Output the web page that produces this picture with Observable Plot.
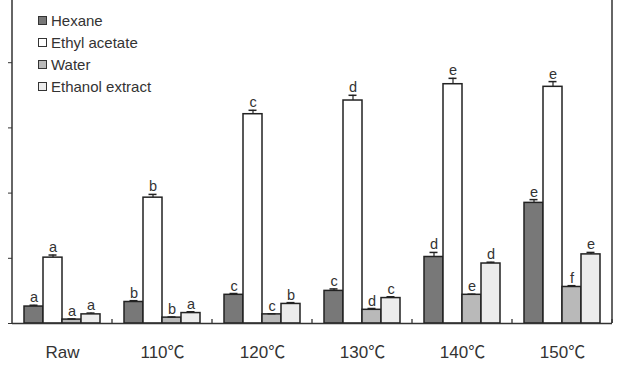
<!DOCTYPE html>
<html>
<head>
<meta charset="utf-8">
<script src="https://cdn.jsdelivr.net/npm/d3@7"></script>
<script src="https://cdn.jsdelivr.net/npm/@observablehq/plot@0.6"></script>
<style>
  body { margin: 0; background: #fff; font-family: "Liberation Sans", Arial, sans-serif; }
  #chart { position: relative; width: 620px; height: 367px; }
  .legend { position: absolute; left: 38px; top: 9px; font-size: 15px; color: #333; }
  .legend .item { height: 22px; display: flex; align-items: center; }
  .legend .sw { width: 7px; height: 7px; border: 1.5px solid #333; margin-right: 4px; }
</style>
</head>
<body>
<div id="chart"></div>
<script>
// Treatment groups along the x axis
const categories = ["Raw", "110℃", "120℃", "130℃", "140℃", "150℃"];
// Extract fractions and their fills
const series = ["Hexane", "Ethyl acetate", "Water", "Ethanol extract"];
const fills = ["#787878", "#ffffff", "#b9b9b9", "#ececec"];

// Mean values per fraction, one per treatment group
const hexane = [0.26, 0.33, 0.44, 0.50, 1.02, 1.85];
const ethylAcetate = [1.01, 1.93, 3.21, 3.42, 3.67, 3.63];
const water = [0.06, 0.09, 0.14, 0.21, 0.44, 0.56];
const ethanol = [0.14, 0.16, 0.30, 0.39, 0.92, 1.06];

// Standard errors
const hexaneErr = [0.02, 0.02, 0.02, 0.03, 0.07, 0.05];
const ethylAcetateErr = [0.04, 0.05, 0.06, 0.08, 0.09, 0.08];
const waterErr = [0.01, 0.01, 0.01, 0.02, 0.01, 0.02];
const ethanolErr = [0.02, 0.02, 0.02, 0.02, 0.02, 0.03];

// Significance letters
const hexaneSig = ["a", "b", "c", "c", "d", "e"];
const ethylAcetateSig = ["a", "b", "c", "d", "e", "e"];
const waterSig = ["a", "b", "c", "d", "e", "f"];
const ethanolSig = ["a", "a", "b", "c", "d", "e"];

const yTicks = [0, 1, 2, 3, 4];

const values = [hexane, ethylAcetate, water, ethanol];
const errs = [hexaneErr, ethylAcetateErr, waterErr, ethanolErr];
const sigs = [hexaneSig, ethylAcetateSig, waterSig, ethanolSig];

const rows = [];
categories.forEach((category, i) => {
  series.forEach((s, j) => {
    rows.push({category, series: s, value: values[j][i], err: errs[j][i], letter: sigs[j][i]});
  });
});
const errTop = d => d.value + d.err;

// Short upward tick at the right edge of every group panel
const groupEdge = Plot.frame({
  render(index, scales, vals, dims) {
    const x = dims.width - dims.marginRight;
    const y = dims.height - dims.marginBottom;
    const g = d3.create("svg:g");
    g.append("line").attr("x1", x).attr("x2", x).attr("y1", y).attr("y2", y - 4)
      .attr("stroke", "#333").attr("stroke-width", 1.3);
    return g.node();
  }
});

// Left and right frame lines spanning the full plot height
const sideLines = Plot.frame({
  facet: "super",
  render(index, scales, vals, dims) {
    const xl = dims.marginLeft, xr = dims.width - dims.marginRight;
    const y0 = dims.marginTop, y1 = dims.height - dims.marginBottom;
    const g = d3.create("svg:g").attr("stroke", "#333").attr("stroke-width", 1.5);
    g.append("line").attr("x1", xl).attr("x2", xl).attr("y1", y0).attr("y2", y1);
    g.append("line").attr("x1", xr).attr("x2", xr).attr("y1", y0).attr("y2", y1);
    return g.node();
  }
});

const chart = Plot.plot({
  width: 620,
  height: 367,
  marginTop: 0,
  marginLeft: 11,
  marginRight: 7,
  marginBottom: 44,
  style: {fontFamily: "'Liberation Sans', Arial, sans-serif", background: "#fff"},
  fx: {domain: categories, padding: 0, axis: null, label: null},
  x: {domain: series, paddingInner: 0, paddingOuter: 0.63, axis: null},
  y: {domain: [0, 4.954], axis: null},
  color: {domain: series, range: fills},
  marks: [
    Plot.barY(rows, {fx: "category", x: "series", y: "value", fill: "series", stroke: "#222", strokeWidth: 1.5}),
    Plot.ruleX(rows, {fx: "category", x: "series", y1: "value", y2: errTop, stroke: "#222", strokeWidth: 1.2}),
    Plot.tickY(rows, {fx: "category", x: "series", y: errTop, stroke: "#222", strokeWidth: 1.5, inset: 5.5}),
    Plot.text(rows, {fx: "category", x: "series", y: errTop, text: "letter", lineAnchor: "bottom", dy: -3, fontSize: 14.5, fill: "#333"}),
    Plot.ruleY([0], {stroke: "#333", strokeWidth: 1.5}),
    groupEdge,
    sideLines,
    Plot.axisY({ticks: yTicks, tickFormat: () => "", tickSize: 4, stroke: "#333", label: null}),
    Plot.axisFx({anchor: "bottom", tickSize: 0, tickPadding: 22, fontSize: 17, fill: "#333", label: null})
  ]
});

// Set the degree-Celsius sign in the full-width CJK face
d3.select(chart).selectAll("text").each(function () {
  const t = this.textContent;
  if (!t.includes("℃")) return;
  const el = d3.select(this);
  el.text(null);
  t.split(/(℃)/).filter(Boolean).forEach(part => {
    const span = el.append("tspan").text(part);
    if (part === "℃") span.attr("font-family", "'Noto Sans CJK SC'");
  });
});

const root = document.getElementById("chart");
root.appendChild(chart);

const legend = document.createElement("div");
legend.className = "legend";
series.forEach((s, j) => {
  const item = document.createElement("div");
  item.className = "item";
  const sw = document.createElement("span");
  sw.className = "sw";
  sw.style.background = fills[j];
  item.appendChild(sw);
  item.appendChild(document.createTextNode(s));
  legend.appendChild(item);
});
root.appendChild(legend);
</script>
</body>
</html>
